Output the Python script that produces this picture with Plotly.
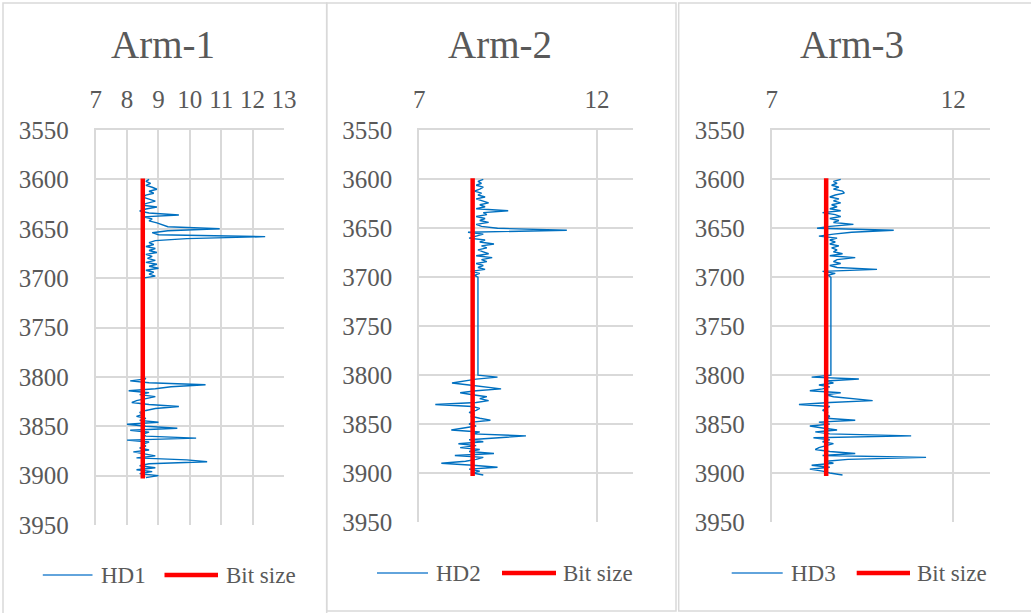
import plotly.graph_objects as go

W, H = 1031, 613

# ---------------- data ----------------
depth_top = [3600, 3602, 3604, 3606, 3608, 3610, 3612, 3614, 3616, 3618,
             3620, 3622, 3624, 3626, 3628, 3630, 3632, 3634, 3636, 3638,
             3640, 3642, 3644, 3646, 3648, 3650, 3652, 3654, 3656, 3658,
             3660, 3662, 3664, 3666, 3668, 3670, 3672, 3674, 3676, 3678,
             3680, 3682, 3684, 3686, 3688, 3690, 3692, 3694, 3696, 3698, 3700]
depth_bot = [3800, 3802, 3804, 3806, 3808, 3810, 3812, 3814, 3816, 3818,
             3820, 3822, 3824, 3826, 3828, 3830, 3832, 3834, 3836, 3838,
             3840, 3842, 3844, 3846, 3848, 3850, 3852, 3854, 3856, 3858,
             3860, 3862, 3864, 3866, 3868, 3870, 3872, 3874, 3876, 3878,
             3880, 3882, 3884, 3886, 3888, 3890, 3892, 3894, 3896, 3898,
             3900, 3902]

hd1_top = [8.7, 8.6, 8.75, 8.6, 8.8, 8.95, 8.7, 8.85, 8.6, 8.5,
           8.7, 8.9, 8.65, 8.45, 8.95, 8.6, 8.4, 8.7, 9.65, 8.5,
           8.8, 8.7, 8.95, 9.1, 9.3, 10.95, 9.3, 8.8, 9.0, 12.4,
           9.9, 8.9, 8.7, 8.85, 8.6, 8.9, 8.7, 8.95, 8.6, 8.8,
           8.65, 8.9, 8.6, 8.95, 8.7, 9.0, 8.6, 8.85, 8.7, 8.9, 8.5]
hd1_bot = [8.5, 8.6, 8.1, 8.7, 10.5, 9.4, 8.9, 8.05, 8.7, 8.4,
           8.9, 8.6, 8.3, 8.15, 8.7, 9.65, 8.9, 8.6, 8.4, 8.5,
           8.3, 8.6, 8.4, 9.0, 8.0, 8.6, 9.6, 8.1, 8.7, 8.5,
           8.6, 10.2, 8.0, 8.7, 8.5, 8.6, 8.4, 8.7, 8.2, 8.55,
           8.9, 8.3, 9.9, 10.55, 8.7, 8.4, 8.9, 8.3, 8.8, 8.4,
           9.0, 8.6]

hd2_top = [8.8, 8.65, 8.75, 8.6, 8.8, 8.7, 8.55, 8.75, 8.65, 8.85,
           8.6, 8.75, 8.95, 8.7, 8.85, 8.6, 9.5, 8.8, 8.9, 8.6,
           8.85, 8.7, 8.95, 8.6, 8.75, 9.2, 11.15, 8.37, 8.8, 8.6,
           8.4, 8.85, 8.7, 9.1, 8.75, 8.9, 8.65, 8.8, 8.95, 8.6,
           9.05, 8.75, 8.9, 8.6, 8.8, 8.65, 8.85, 8.45, 8.7, 8.55, 8.65]
hd2_bot = [8.65, 9.2, 8.6, 8.3, 7.92, 8.4, 8.8, 9.3, 8.6, 8.15,
           8.5, 8.9, 8.7, 8.95, 8.6, 7.45, 8.5, 8.7, 8.6, 8.4,
           8.55, 8.45, 8.7, 9.0, 8.5, 8.4, 8.6, 8.2, 7.9, 8.7,
           8.5, 10.0, 9.2, 8.4, 8.8, 8.1, 8.6, 8.15, 8.7, 8.4,
           9.1, 8.0, 8.8, 8.6, 8.3, 7.62, 8.5, 9.2, 8.4, 8.7,
           8.5, 8.8]

hd3_top = [8.9, 8.7, 8.8, 8.65, 8.85, 8.7, 8.95, 9.0, 8.75, 8.6,
           8.85, 8.7, 8.9, 8.65, 8.8, 8.6, 8.9, 8.4, 8.75, 8.9,
           8.6, 8.85, 8.7, 9.25, 8.6, 8.25, 10.36, 9.2, 8.7, 8.3,
           8.8, 8.6, 8.75, 8.6, 8.85, 8.65, 8.8, 8.7, 8.95, 8.6,
           9.3, 8.8, 8.7, 8.9, 8.6, 8.8, 9.9, 8.4, 8.75, 8.55, 8.63]
hd3_bot = [8.63, 8.1, 9.4, 8.5, 8.7, 8.3, 8.6, 8.4, 8.05, 8.9,
           8.5, 8.7, 9.3, 9.78, 8.6, 7.75, 8.6, 8.5, 8.4, 8.55,
           8.45, 8.6, 8.5, 9.3, 8.3, 8.6, 8.05, 8.4, 8.8, 8.2,
           8.6, 10.84, 8.15, 8.6, 8.4, 8.7, 8.5, 8.3, 8.2, 8.6,
           9.3, 8.4, 11.25, 9.1, 8.5, 8.7, 8.1, 8.6, 8.05, 8.4,
           8.6, 8.95]

bit_depth = [3599, 3903]
bit_size = [8.5, 8.5]

titles = ["Arm-1", "Arm-2", "Arm-3"]
hd_names = ["HD1", "HD2", "HD3"]
x_dticks = [1, 5, 5]
x_range = [7, 13]
y_range = [3950, 3550]
y_dtick = 50

# ---------------- styling ----------------
BLUE = "#0070C0"
RED = "#FF0000"
GRID = "#d9d9d9"
TXT = "#595959"
FONT = "Liberation Serif"

def px_x(p):
    return p / W

def px_y(p):
    return 1 - p / H

# plot-area pixel boxes (left, right, top, bottom)
boxes = [(95.7, 284.0, 130.0, 525.0),
         (419.3, 632.6, 130.4, 522.0),
         (771.7, 989.6, 130.4, 522.0)]
panels = [(3, 326.7, 3, 625), (326.7, 676, 3, 611), (678.7, 1040, 3, 611)]
title_cx = [163, 500, 852]
legend_y = [575, 573, 573]
legend_x = [(42.8, 92.5, 98.5, 164.5, 218, 223.5),
            (377, 428, 434, 502, 556, 560.5),
            (731.7, 782.7, 789, 856.7, 910, 915)]

hd_series = [(hd1_top, hd1_bot), (hd2_top, hd2_bot), (hd3_top, hd3_bot)]

fig = go.Figure()
layout = dict(width=W, height=H, margin=dict(l=0, r=0, t=0, b=0, autoexpand=False),
              paper_bgcolor="white", plot_bgcolor="white", showlegend=False)
shapes = []
annotations = []

for i in range(3):
    sfx = "" if i == 0 else str(i + 1)
    xa, ya = "x" + sfx, "y" + sfx
    top, bot = hd_series[i]
    fig.add_trace(go.Scatter(x=top + bot, y=depth_top + depth_bot, mode="lines",
                             line=dict(color=BLUE, width=1.4), name=hd_names[i],
                             xaxis=xa, yaxis=ya))
    fig.add_trace(go.Scatter(x=bit_size, y=bit_depth, mode="lines",
                             line=dict(color=RED, width=4.5), name="Bit size",
                             xaxis=xa, yaxis=ya))
    l, r, t, b = boxes[i]
    layout["xaxis" + sfx] = dict(domain=[px_x(l), px_x(r)], range=x_range, dtick=x_dticks[i],
                                 tick0=7, side="top", anchor=ya, showgrid=True,
                                 gridcolor=GRID, gridwidth=2, zeroline=False,
                                 showline=True, linecolor=GRID, linewidth=2,
                                 ticks="", ticklabelstandoff=10, automargin=False,
                                 tickfont=dict(family=FONT, size=25, color=TXT))
    layout["yaxis" + sfx] = dict(domain=[px_y(b), px_y(t)], range=y_range, dtick=y_dtick,
                                 tick0=3550, anchor=xa, showgrid=True,
                                 gridcolor=GRID, gridwidth=2, zeroline=False,
                                 showline=True, linecolor=GRID, linewidth=2,
                                 ticks="", ticklabelstandoff=20, automargin=False,
                                 tickfont=dict(family=FONT, size=25, color=TXT))
    # panel border
    x0, x1, y0, y1 = panels[i]
    shapes.append(dict(type="rect", xref="paper", yref="paper",
                       x0=px_x(x0), x1=px_x(x1), y0=px_y(y1), y1=px_y(y0),
                       line=dict(color=GRID, width=1.5), fillcolor="rgba(0,0,0,0)",
                       layer="below"))
    # title
    annotations.append(dict(text=titles[i], xref="paper", yref="paper",
                            x=px_x(title_cx[i]), y=px_y(44.5), xanchor="center",
                            yanchor="middle", showarrow=False,
                            font=dict(family=FONT, size=39, color=TXT)))
    # legend
    bx0, bx1, tx1, rx0, rx1, tx2 = legend_x[i]
    ly = legend_y[i]
    shapes.append(dict(type="line", xref="paper", yref="paper",
                       x0=px_x(bx0), x1=px_x(bx1), y0=px_y(ly), y1=px_y(ly),
                       line=dict(color="#2E86D0", width=1.6)))
    shapes.append(dict(type="line", xref="paper", yref="paper",
                       x0=px_x(rx0), x1=px_x(rx1), y0=px_y(ly), y1=px_y(ly),
                       line=dict(color=RED, width=4.5)))
    annotations.append(dict(text=hd_names[i], xref="paper", yref="paper",
                            x=px_x(tx1), y=px_y(ly), xanchor="left", yanchor="middle",
                            showarrow=False, font=dict(family=FONT, size=23, color=TXT)))
    annotations.append(dict(text="Bit size", xref="paper", yref="paper",
                            x=px_x(tx2), y=px_y(ly), xanchor="left", yanchor="middle",
                            showarrow=False, font=dict(family=FONT, size=23, color=TXT)))

layout["shapes"] = shapes
layout["annotations"] = annotations
fig.update_layout(**layout)
fig.write_html("out.html")
